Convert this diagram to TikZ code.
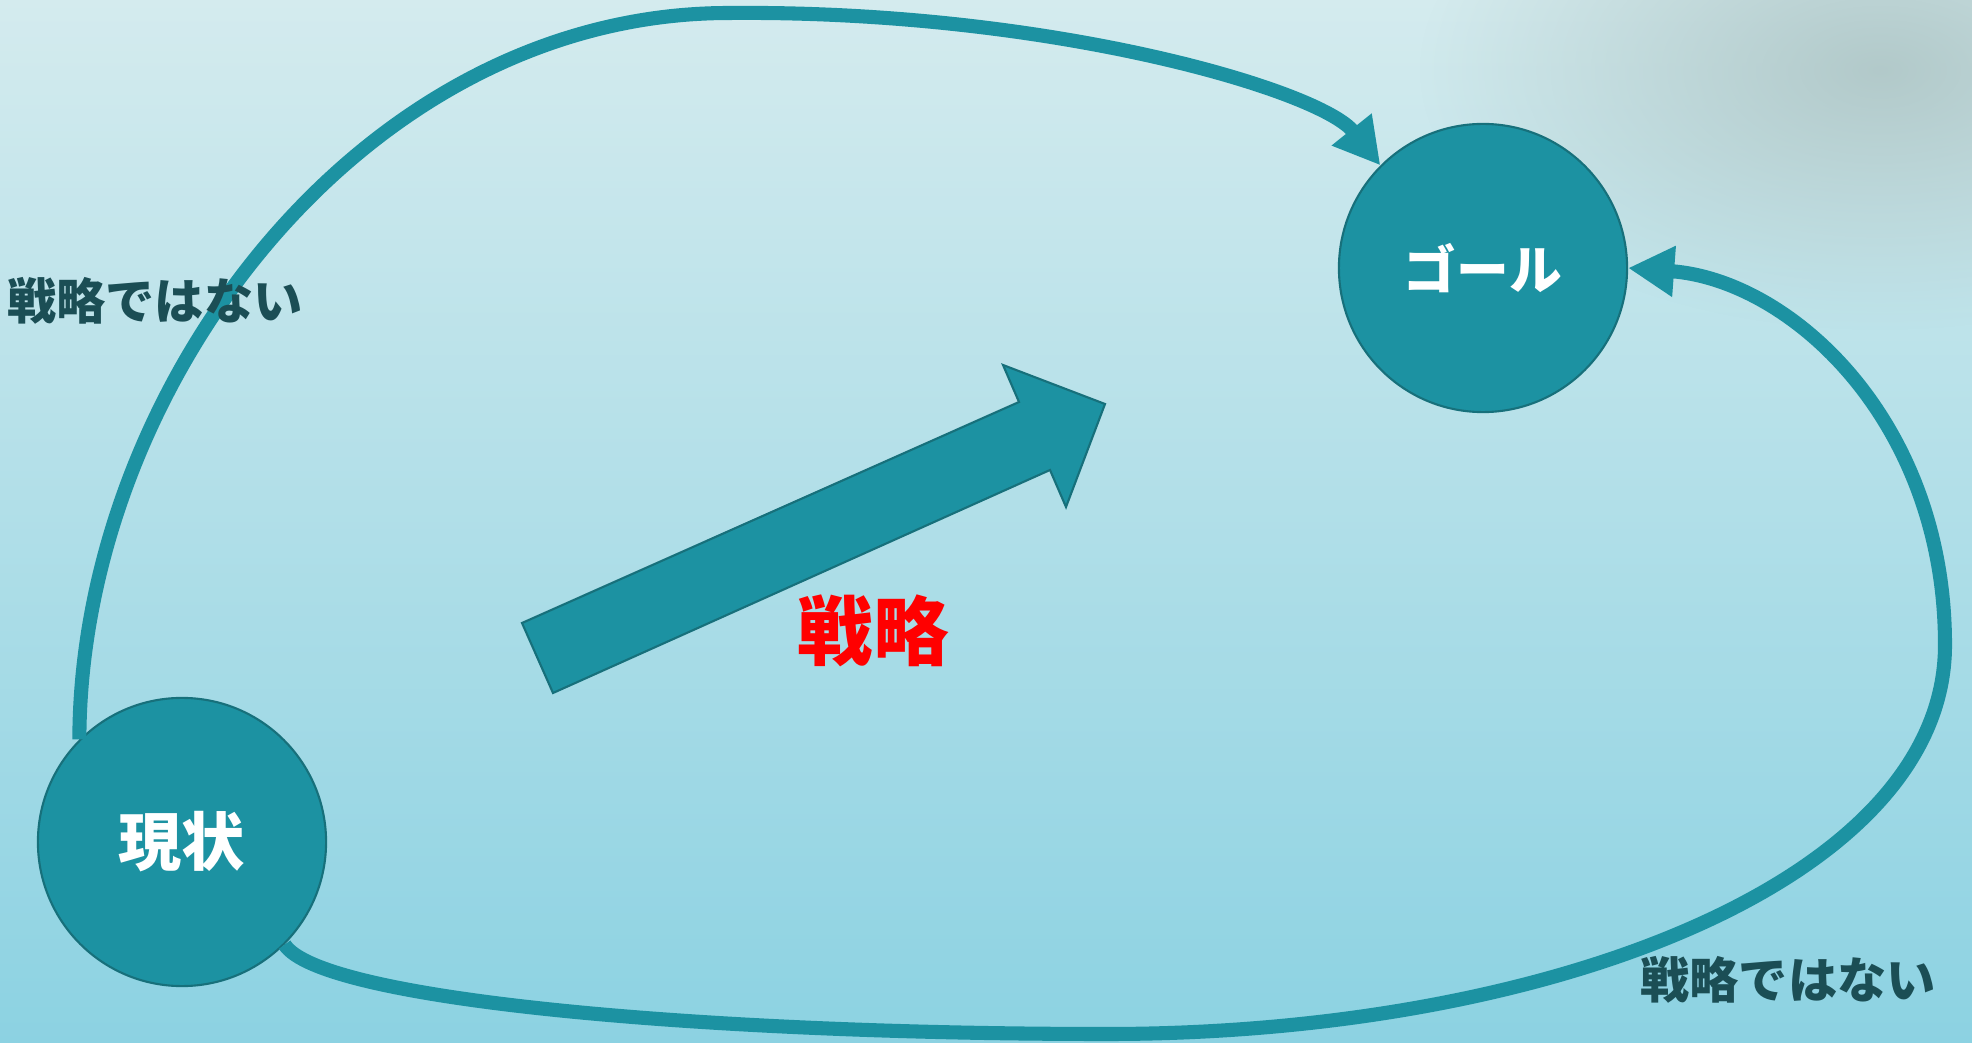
\documentclass[tikz,border=0pt]{standalone}
\usepackage{fontspec}
\newfontfamily\jpfont{Noto Sans CJK JP}
\usetikzlibrary{arrows.meta,fadings}
\tikzfading[name=softblob,inner color=transparent!10,outer color=transparent!100]
\definecolor{bgtop}{HTML}{D4EBEE}
\definecolor{bgmid}{HTML}{B3E4EE}
\definecolor{bgbot}{HTML}{8CD2E2}
\definecolor{bggray}{HTML}{AFC6C6}
\definecolor{tealfill}{HTML}{1C92A2}
\definecolor{tealdark}{HTML}{17707B}
\definecolor{labeldark}{HTML}{1B4E55}

\begin{document}
\begin{tikzpicture}[x=0.01cm,y=-0.01cm]
		 \tikzstyle{every node}+=[inner sep=0pt]
		 \tikzstyle{place}=[circle,draw=tealdark,line width=0.6pt,fill=tealfill,minimum size=2.88cm,text=white]
		 \tikzstyle{detour}=[draw=tealfill,line width=4pt,-{Triangle[length=4.6mm,width=4.8mm]}]
		 \tikzstyle{notway}=[text=labeldark,font=\jpfont\bfseries\fontsize{14}{17}\selectfont]
		 \useasboundingbox (0,0) rectangle (1972,1043);
		 \shade [top color=bgtop,middle color=bgmid,bottom color=bgbot] (0,0) rectangle (1972,1043);
		 \fill [bggray,path fading=softblob] (1880,70) ellipse (460 and 260);
		 \node [place,font=\jpfont\bfseries\fontsize{18}{21}\selectfont] (now) at (182,842) {現状};
		 \node [place,font=\jpfont\bfseries\fontsize{15}{18}\selectfont] (goal) at (1483,268) {ゴール};
		 \fill [tealfill,draw=tealdark,line width=0.6pt] (522,623) -- (1019,402) -- (1003,365) -- (1105,404) -- (1066,507) -- (1050,470) -- (553,693) -- cycle;
		 \node [text=red,font=\jpfont\bfseries\fontsize{21.5}{25}\selectfont] (way) at (873,631) {戦略};
		 \draw [detour] (now.135) .. controls (80,390) and (360,13) .. (729,13) .. controls (1050,10) and (1320,90) .. (goal.135);
		 \draw [detour] (now.-45) .. controls (320,1000) and (700,1034) .. (1107,1034) .. controls (1550,1034) and (1945,880) .. (1945,645) .. controls (1945,420) and (1790,280) .. (goal.east);
		 \node [notway] (notup) at (155,301) {戦略ではない};
		 \node [notway] (notdown) at (1788,980) {戦略ではない};
\end{tikzpicture}
\end{document}
